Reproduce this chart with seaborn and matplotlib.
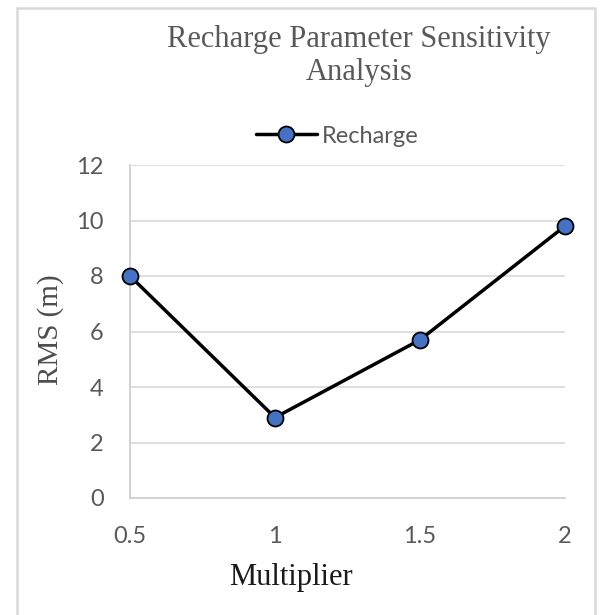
import matplotlib
matplotlib.use("Agg")
import matplotlib.pyplot as plt
import seaborn as sns
import pandas as pd
from matplotlib.patches import Rectangle

# Data
multipliers = [0.5, 1.0, 1.5, 2.0]
rms_values = [8.0, 2.9, 5.7, 9.8]
series_name = "Recharge"
y_ticks = [0, 2, 4, 6, 8, 10, 12]
x_ticks = [0.5, 1, 1.5, 2]
x_tick_labels = ["0.5", "1", "1.5", "2"]

df = pd.DataFrame({"Multiplier": multipliers, "RMS": rms_values, "Series": series_name})

sns.set_theme(style="white")
plt.rcParams["font.family"] = ["Liberation Serif", "DejaVu Serif"]

fig = plt.figure(figsize=(6.02, 6.15), dpi=100)
ax = fig.add_axes([130 / 602, 1 - 498 / 615, (565 - 130) / 602, (498 - 165) / 615])

sns.lineplot(
    data=df, x="Multiplier", y="RMS", hue="Series", palette=["black"],
    marker="o", markersize=11.5, markerfacecolor="#4472C4",
    markeredgecolor="black", markeredgewidth=1.3, linewidth=2.5,
    ax=ax, legend=False, clip_on=False, zorder=5,
)

ax.set_xlim(0.5, 2.0)
ax.set_ylim(0, 12)
ax.set_yticks(y_ticks)
ax.set_xticks(x_ticks)
ax.set_xticklabels(x_tick_labels)
ax.yaxis.grid(True, color="#d9d9d9", linewidth=1.2)
ax.xaxis.grid(False)
ax.set_axisbelow(True)
for side in ["top", "right"]:
    ax.spines[side].set_visible(False)
for side in ["left", "bottom"]:
    ax.spines[side].set_color("#d0d0d0")
    ax.spines[side].set_linewidth(1.3)
ax.tick_params(axis="both", length=0, labelsize=17, labelcolor="#595959")
for lab in ax.get_xticklabels() + ax.get_yticklabels():
    lab.set_fontfamily(["Lato", "DejaVu Sans"])
ax.tick_params(axis="y", pad=19)
ax.tick_params(axis="x", pad=20)
ax.set_xlabel("")
ax.set_ylabel("")

# Axis titles
fig.text(291 / 602, 1 - 577 / 615, "Multiplier", ha="center", va="center",
         fontsize=22, color="#1a1a1a")
fig.text(51 / 602, 1 - 330 / 615, "RMS (m)", ha="center", va="center",
         rotation=90, fontsize=21, color="#4d4d4d")

# Chart title
fig.text(359 / 602, 1 - 56 / 615, "Recharge Parameter Sensitivity\nAnalysis",
         ha="center", va="center", fontsize=22, color="#595959", linespacing=1.2)

# Legend
handle = ax.lines[0]
leg = fig.legend([handle], [series_name], loc="center", bbox_to_anchor=(337 / 602, 1 - 136 / 615),
                 frameon=False, handlelength=2.6, handletextpad=0.2,
                 prop={"family": ["Lato", "DejaVu Sans"], "size": 17})
for t in leg.get_texts():
    t.set_color("#595959")

# Chart area border
fig.patches.append(Rectangle((16.5 / 602, -0.02), (595 - 16.5) / 602, 1 - 7.5 / 615 + 0.02,
                             transform=fig.transFigure, fill=False,
                             edgecolor="#d9d9d9", linewidth=1.8))

fig.savefig("out.png", dpi=100, facecolor="white")
